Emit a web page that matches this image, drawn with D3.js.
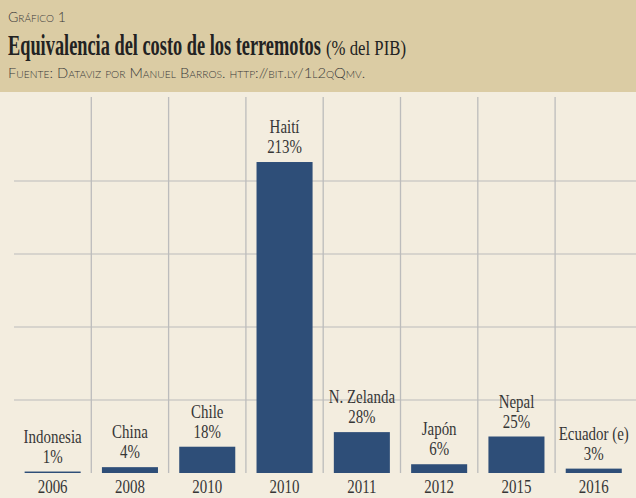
<!DOCTYPE html>
<html><head><meta charset="utf-8">
<script src="https://cdn.jsdelivr.net/npm/d3@7"></script>
<style>
html,body{margin:0;padding:0;background:#f3eddf;}
svg{display:block;}
</style></head>
<body>
<svg id="chart" width="636" height="498"></svg>
<script>
const years = ["2006","2008","2010","2010","2011","2012","2015","2016"];
const countries = ["Indonesia","China","Chile","Haití","N. Zelanda","Japón","Nepal","Ecuador (e)"];
const values = [1, 4, 18, 213, 28, 6, 25, 3];
const gridTicks = [50, 100, 150, 200];

const W = 636, H = 498;
const svg = d3.select("#chart");
const serif = "'Liberation Serif','DejaVu Serif',serif";
const sans = "Lato,'Open Sans',sans-serif";

// backgrounds
svg.append("rect").attr("x",0).attr("y",0).attr("width",W).attr("height",H).attr("fill","#f3eddf");
svg.append("rect").attr("x",0).attr("y",0).attr("width",W).attr("height",92).attr("fill","#dbcca4");

const idx = d3.range(values.length);
const x = d3.scaleBand().domain(idx).range([14, 632.4]).padding(0);
const y = d3.scaleLinear().domain([0, 250]).range([473, 473 - 250*1.46]);

// horizontal grid
svg.append("g").selectAll("line").data(gridTicks).join("line")
  .attr("x1", 14).attr("x2", W)
  .attr("y1", d => y(d)).attr("y2", d => y(d))
  .attr("stroke", "#bcbcbc").attr("stroke-width", 1.2);

// vertical separators
svg.append("g").selectAll("line").data(idx.slice(1)).join("line")
  .attr("x1", d => x(d)).attr("x2", d => x(d))
  .attr("y1", 97).attr("y2", y(0))
  .attr("stroke", "#bcbcbc").attr("stroke-width", 1.3);

// bars
const bw = x.bandwidth() * 0.725;
svg.append("g").selectAll("rect").data(idx).join("rect")
  .attr("x", i => x(i) + x.bandwidth()/2 - bw/2)
  .attr("width", bw)
  .attr("y", i => y(values[i]))
  .attr("height", i => y(0) - y(values[i]))
  .attr("fill", "#2e4e78");

function ctext(g, str, cx, cy, size, sx, fill) {
  g.append("text")
    .attr("transform", `translate(${cx},${cy}) scale(${sx},1)`)
    .attr("text-anchor", "middle")
    .attr("font-family", serif)
    .attr("font-size", size)
    .attr("fill", fill)
    .text(str);
}

const lab = svg.append("g");
idx.forEach(i => {
  const cx = x(i) + x.bandwidth()/2;
  const top = y(values[i]);
  ctext(lab, values[i] + "%", cx, top - 9, 18, 0.83, "#363636");
  ctext(lab, countries[i], cx, top - 29, 18, 0.83, "#363636");
});

// x axis labels
const xAxis = d3.axisBottom(x).tickSize(0).tickFormat(i => years[i]);
const ax = svg.append("g").attr("transform", `translate(0,${y(0)})`).call(xAxis);
ax.select(".domain").remove();
ax.selectAll("text")
  .attr("font-family", serif).attr("font-size", 18).attr("fill", "#363636")
  .attr("dy", null).attr("y", 0)
  .attr("transform", "translate(0,20.3) scale(0.83,1)");

// header texts, fitted to widths
function fitted(str, x0, base, family, size, weight, targetW, fill, variant) {
  const t = svg.append("text")
    .attr("font-family", family).attr("font-size", size)
    .attr("font-weight", weight).attr("fill", fill)
    .style("font-variant", variant || "normal")
    .text(str);
  const w = t.node().getComputedTextLength();
  t.attr("transform", `translate(${x0},${base}) scale(${targetW / w},1)`);
  return t;
}
fitted("Gráfico 1", 8, 22, sans, 14, 300, 58, "#3a3a3a", "small-caps");
fitted("Equivalencia del costo de los terremotos", 8, 55, serif, 29, 700, 313, "#222");
fitted("(% del PIB)", 326, 54.5, serif, 20, 400, 80, "#222");
fitted("Fuente: Dataviz por Manuel Barros. http://bit.ly/1l2qQmv.", 8, 78, sans, 14, 300, 364, "#3a3a3a", "small-caps");
</script>
</body></html>
